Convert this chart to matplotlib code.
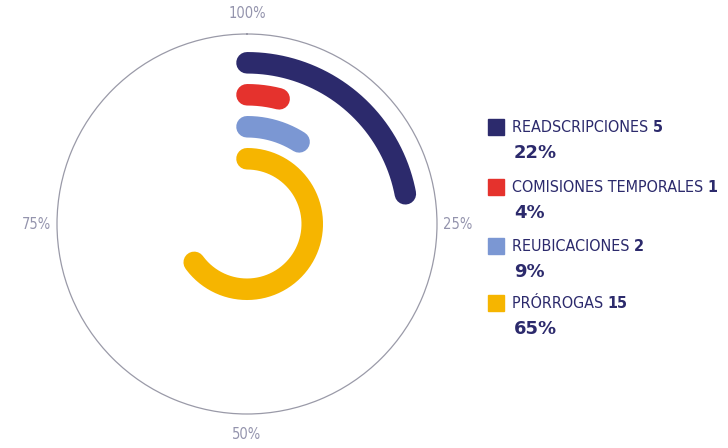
import numpy as np
import matplotlib
matplotlib.use("Agg")
import matplotlib.pyplot as plt
from matplotlib.patches import Rectangle

# data
categories = ["READSCRIPCIONES", "COMISIONES TEMPORALES", "REUBICACIONES", "PRÓRROGAS"]
counts = [5, 1, 2, 15]
percents = [22, 4, 9, 65]
colors = ["#2c2a6c", "#e5322d", "#7b97d3", "#f6b500"]
axis_labels = ["100%", "25%", "50%", "75%"]

text_col = "#2c2a6c"
grey = "#9494ad"

fig = plt.figure(figsize=(7.28, 4.48), dpi=100)
W, H = 728, 448
cx, cy, R = 247, 224, 190
ax = fig.add_axes([(cx - R) / W, (H - cy - R) / H, 2 * R / W, 2 * R / H],
                  projection="polar")
ax.set_theta_zero_location("N")
ax.set_theta_direction(-1)

# rings: outermost first
rings = np.arange(len(categories), 0, -1)
for ring, pct, col in zip(rings, percents, colors):
    theta = np.linspace(0, pct / 100 * 2 * np.pi, 200)
    ax.plot(theta, np.full_like(theta, ring), color=col, lw=15.5,
            solid_capstyle="round")

ax.set_ylim(-1.04, 4.9)
ax.set_yticks([])
ax.set_xticks(np.arange(4) * np.pi / 2)
ax.set_xticklabels(axis_labels, color=grey, fontsize=10.5, fontstretch="condensed")
ax.tick_params(axis="x", pad=8, length=0, width=0)
ax.grid(False)
for s in ["start", "end", "inner"]:
    ax.spines[s].set_visible(False)
ax.spines["polar"].set_color("#9a9aa8")
ax.spines["polar"].set_linewidth(0.9)

# legend
rows_y = [127, 187, 246, 303]
fig.canvas.draw()
renderer = fig.canvas.get_renderer()
for y, name, n, pct, col in zip(rows_y, categories, counts, percents, colors):
    fig.add_artist(Rectangle((488 / W, (H - y - 8) / H), 16 / W, 16 / H,
                             transform=fig.transFigure, color=col))
    t = fig.text(512 / W, (H - y) / H, name + " ", color=text_col,
                 fontsize=11.5, fontstretch="condensed", va="center", ha="left")
    bb = t.get_window_extent(renderer)
    fig.text(bb.x1 / W, (H - y) / H, str(n), color=text_col, fontsize=11.5,
             fontstretch="condensed", fontweight="bold", va="center", ha="left")
    fig.text(514 / W, (H - y - 26) / H, f"{pct}%", color=text_col,
             fontsize=13, fontweight="bold", va="center", ha="left")

fig.savefig("out.png", dpi=100)
